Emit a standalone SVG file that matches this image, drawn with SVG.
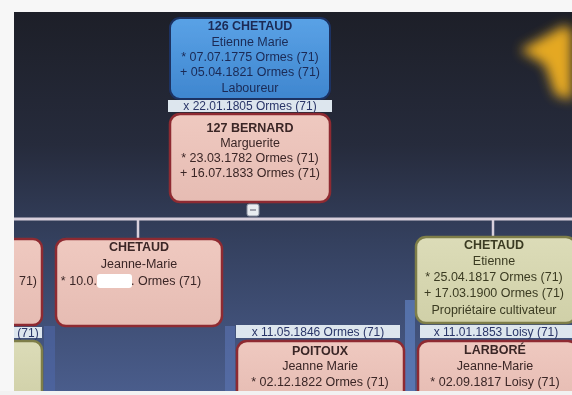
<svg xmlns="http://www.w3.org/2000/svg" width="572" height="395" viewBox="0 0 572 395">
<defs>
<linearGradient id="bg" x1="0" y1="0" x2="0" y2="1">
<stop offset="0" stop-color="#1d1f28"/>
<stop offset="0.35" stop-color="#262b3c"/>
<stop offset="0.6" stop-color="#34405e"/>
<stop offset="1" stop-color="#4a5d8c"/>
</linearGradient>
<linearGradient id="blue" x1="0" y1="0" x2="0" y2="1">
<stop offset="0" stop-color="#5aa2e6"/>
<stop offset="1" stop-color="#3f86cf"/>
</linearGradient>
<linearGradient id="pink" x1="0" y1="0" x2="0" y2="1">
<stop offset="0" stop-color="#efc9c0"/>
<stop offset="1" stop-color="#e6bcb3"/>
</linearGradient>
<linearGradient id="green" x1="0" y1="0" x2="0" y2="1">
<stop offset="0" stop-color="#dcdcb8"/>
<stop offset="1" stop-color="#d0d0a8"/>
</linearGradient>
<filter id="blur" x="-50%" y="-50%" width="200%" height="200%"><feGaussianBlur stdDeviation="6"/></filter>
<filter id="soft"><feGaussianBlur stdDeviation="0.6"/></filter>
<clipPath id="screen"><rect x="14" y="12" width="558" height="379"/></clipPath>
</defs>
<style>
.t{font-family:"Liberation Sans",Arial,sans-serif;font-size:12.5px;text-anchor:middle}
.b{font-weight:bold}
.bt{fill:#1b2a55}
.pt{fill:#3a2626}
.gt{fill:#3b3b22}
.lbl{fill:#dde6ee}
.lt{font-family:"Liberation Sans",Arial,sans-serif;font-size:12px;text-anchor:middle;fill:#2a3668}
.pn{fill:url(#pink);stroke:#8e2c30;stroke-width:2.5}
.gn{fill:url(#green);stroke:#7e7e48;stroke-width:2.5}
</style>
<rect x="0" y="0" width="572" height="395" fill="#f7f7f7"/>
<g clip-path="url(#screen)">
<rect x="14" y="12" width="558" height="380" fill="url(#bg)"/>
<path d="M520 50 L565 25 L572 30 L572 100 L555 95 L545 65 Z" fill="#f0b020" filter="url(#blur)" opacity="0.95"/>
<g filter="url(#soft)">
<g id="connectors">
<line x1="14" y1="219" x2="572" y2="219" stroke="#d8d0dc" stroke-width="3"/>
<line x1="138" y1="219" x2="138" y2="239" stroke="#d8d0dc" stroke-width="2.5"/>
<line x1="493" y1="219" x2="493" y2="237" stroke="#d8d0dc" stroke-width="2.5"/>
<rect x="44" y="326" width="11" height="69" fill="#5068a8" opacity="0.6"/>
<rect x="225" y="326" width="10" height="69" fill="#5a74b4" opacity="0.6"/>
<rect x="405" y="300" width="10" height="95" fill="#6080c0" opacity="0.7"/>
<rect x="247" y="204" width="12" height="12" rx="2" fill="#e8ecf0" stroke="#8a90a0" stroke-width="1"/>
<line x1="250" y1="210" x2="256" y2="210" stroke="#556" stroke-width="1"/>
</g>
<g id="n126">
<rect x="170" y="18" width="160" height="81" rx="10" fill="url(#blue)" stroke="#1c3262" stroke-width="2"/>
<text class="t b bt" x="250" y="30">126 CHETAUD</text>
<text class="t bt" x="250" y="46">Etienne Marie</text>
<text class="t bt" x="250" y="61">* 07.07.1775 Ormes (71)</text>
<text class="t bt" x="250" y="76">+ 05.04.1821 Ormes (71)</text>
<text class="t bt" x="250" y="92">Laboureur</text>
</g>
<g id="m1">
<rect class="lbl" x="168" y="100" width="164" height="12"/>
<text class="lt" x="250" y="110">x 22.01.1805 Ormes (71)</text>
</g>
<g id="n127">
<rect class="pn" x="170" y="114" width="160" height="88" rx="10"/>
<text class="t b pt" x="250" y="132">127 BERNARD</text>
<text class="t pt" x="250" y="147">Marguerite</text>
<text class="t pt" x="250" y="162">* 23.03.1782 Ormes (71)</text>
<text class="t pt" x="250" y="177">+ 16.07.1833 Ormes (71)</text>
</g>
<g id="nleft">
<rect class="pn" x="2" y="239" width="40" height="86" rx="9"/>
<text class="t pt" x="28" y="285">71)</text>
</g>
<g id="mleft">
<rect class="lbl" x="14" y="327" width="28" height="11"/>
<text class="lt" x="28" y="337">(71)</text>
</g>
<g id="nleft2">
<rect class="gn" x="2" y="341" width="40" height="60" rx="9"/>
</g>
<g id="njm">
<rect class="pn" x="56" y="239" width="166" height="87" rx="10"/>
<text class="t b pt" x="139" y="251">CHETAUD</text>
<text class="t pt" x="139" y="268">Jeanne-Marie</text>
<text class="t pt" x="97" y="285" style="text-anchor:end">* 10.0.</text>
<text class="t pt" x="131" y="285" style="text-anchor:start">. Ormes (71)</text>
<rect x="97" y="274" width="35" height="14" rx="3" fill="#ffffff"/>
</g>
<g id="net">
<rect class="gn" x="416" y="237" width="160" height="86" rx="10"/>
<text class="t b gt" x="494" y="249">CHETAUD</text>
<text class="t gt" x="494" y="265">Etienne</text>
<text class="t gt" x="494" y="281">* 25.04.1817 Ormes (71)</text>
<text class="t gt" x="494" y="297">+ 17.03.1900 Ormes (71)</text>
<text class="t gt" x="494" y="314">Propriétaire cultivateur</text>
</g>
<g id="m2">
<rect class="lbl" x="236" y="325" width="164" height="13"/>
<text class="lt" x="318" y="336">x 11.05.1846 Ormes (71)</text>
</g>
<g id="m3">
<rect class="lbl" x="420" y="325" width="152" height="13"/>
<text class="lt" x="496" y="336">x 11.01.1853 Loisy (71)</text>
</g>
<g id="npo">
<rect class="pn" x="237" y="341" width="167" height="60" rx="10"/>
<text class="t b pt" x="320" y="355">POITOUX</text>
<text class="t pt" x="320" y="370">Jeanne Marie</text>
<text class="t pt" x="320" y="386">* 02.12.1822 Ormes (71)</text>
</g>
<g id="nla">
<rect class="pn" x="418" y="341" width="160" height="60" rx="10"/>
<text class="t b pt" x="495" y="354">LARBORÉ</text>
<text class="t pt" x="495" y="370">Jeanne-Marie</text>
<text class="t pt" x="495" y="386">* 02.09.1817 Loisy (71)</text>
</g>
</g>
</g>
<rect x="0" y="391" width="572" height="4" fill="#f2f2f2"/>
</svg>
